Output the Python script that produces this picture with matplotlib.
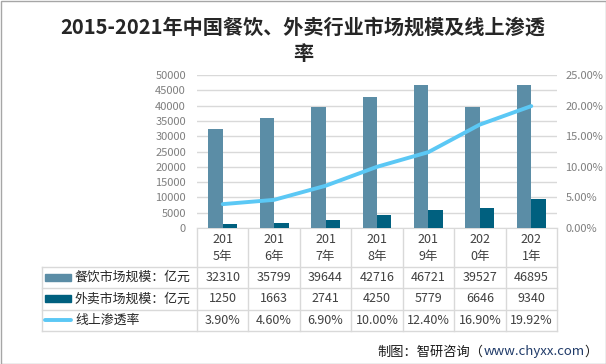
import matplotlib
matplotlib.use("Agg")
import matplotlib.pyplot as plt
from matplotlib.transforms import blended_transform_factory
from matplotlib.patches import Rectangle
from matplotlib.lines import Line2D
from matplotlib.ticker import FuncFormatter

plt.rcParams['font.family'] = ['Noto Sans CJK SC', 'DejaVu Sans']

years = ["201\n5年", "201\n6年", "201\n7年", "201\n8年", "201\n9年", "202\n0年", "202\n1年"]
restaurant = [32310, 35799, 39644, 42716, 46721, 39527, 46895]
delivery = [1250, 1663, 2741, 4250, 5779, 6646, 9340]
online_rate = [3.90, 4.60, 6.90, 10.00, 12.40, 16.90, 19.92]
series_names = ["餐饮市场规模：亿元", "外卖市场规模：亿元", "线上渗透率"]
title = "2015-2021年中国餐饮、外卖行业市场规模及线上渗透\n率"
source_a = "制图：智研咨询（"
source_b = "www.chyxx.com"
source_c = "）"

C_REST = "#5B8DA6"
C_DEL = "#00607F"
C_LINE = "#5BC8F5"
GRID = "#D9D9D9"
TICK = "#7F7F7F"

W, H = 606, 364
fig = plt.figure(figsize=(W / 100, H / 100), dpi=100)

# overlay in pixel coordinates
ov = fig.add_axes([0, 0, 1, 1])
ov.set_xlim(0, W)
ov.set_ylim(H, 0)
ov.axis("off")

ax = fig.add_axes([197 / W, 1 - 228 / H, (557 - 197) / W, (228 - 75) / H])
ax2 = ax.twinx()

x = list(range(len(years)))
bw = 0.28
ax.bar([i - bw / 2 for i in x], restaurant, width=bw, color=C_REST, zorder=3)
ax.bar([i + bw / 2 for i in x], delivery, width=bw, color=C_DEL, zorder=3)
ax.set_xlim(-0.5, len(years) - 0.5)
ax.set_ylim(0, 50000)
ax.set_yticks(range(0, 50001, 5000))
ax.grid(axis="y", color=GRID, linewidth=1, zorder=0)
ax.set_xticks([])
for s in ["top", "right", "left"]:
    ax.spines[s].set_visible(False)
ax.spines["bottom"].set_color(GRID)
ax.tick_params(axis="y", length=0, labelsize=8, labelcolor=TICK, pad=8)

ax2.plot(x, [v / 100 for v in online_rate], color=C_LINE, linewidth=2.8, zorder=4,
         solid_capstyle="round")
ax2.set_ylim(0, 0.25)
ax2.set_yticks([0, 0.05, 0.10, 0.15, 0.20, 0.25])
ax2.yaxis.set_major_formatter(FuncFormatter(lambda v, p: f"{v*100:.2f}%"))
for s in ["top", "right", "left", "bottom"]:
    ax2.spines[s].set_visible(False)
ax2.tick_params(axis="y", length=0, labelsize=8, labelcolor=TICK, pad=6)

# table
tr = blended_transform_factory(ax.transData, ov.transData)
n = len(years)
y_top, y_h, rows_y = 228, 266.5, [266.5, 288, 309.5, 331]
for i in range(n + 1):
    ov.add_line(Line2D([i - 0.5, i - 0.5], [y_top, rows_y[-1]], transform=tr,
                       color=GRID, linewidth=1))
ov.add_line(Line2D([41.5, 41.5], [rows_y[0], rows_y[-1]], color=GRID, linewidth=1))
for yy in rows_y:
    ov.add_line(Line2D([41.5, 557], [yy, yy], color=GRID, linewidth=1))

for i, lab in enumerate(years):
    ov.text(i, (y_top + y_h) / 2 + 1, lab, transform=tr, ha="center", va="center",
            fontsize=9, color="#404040", linespacing=1.4)

rows = [restaurant, delivery, [f"{v:.2f}%" for v in online_rate]]
for r, vals in enumerate(rows):
    yc = (rows_y[r] + rows_y[r + 1]) / 2
    for i, v in enumerate(vals):
        ov.text(i, yc, str(v), transform=tr, ha="center", va="center",
                fontsize=9, color="#404040")
    ov.text(75, yc, series_names[r], ha="left", va="center", fontsize=9.3, color="#262626")

# legend keys
yc0 = (rows_y[0] + rows_y[1]) / 2
yc1 = (rows_y[1] + rows_y[2]) / 2
yc2 = (rows_y[2] + rows_y[3]) / 2
ov.add_patch(Rectangle((45, yc0 - 3.5), 26, 7, color=C_REST))
ov.add_patch(Rectangle((45, yc1 - 3.5), 26, 7, color=C_DEL))
ov.add_line(Line2D([45, 71], [yc2, yc2], color=C_LINE, linewidth=2.8, solid_capstyle="round"))

# title
ov.text(303, 40, title, ha="center", va="center", fontsize=14.5, fontweight="bold",
        color="#262626", linespacing=1.3)

# source
t3 = ov.text(598, 352, source_c, ha="right", va="center", fontsize=9.5, color="#1a1a1a")
fig.canvas.draw()
bb = t3.get_window_extent()
x3 = bb.x0
t2 = fig.text(x3 / W, 1 - 352 / H, source_b, ha="right", va="center", fontsize=9.5, color="#1F3A68")
fig.canvas.draw()
bb2 = t2.get_window_extent()
fig.text(bb2.x0 / W, 1 - 352 / H, source_a, ha="right", va="center", fontsize=9.5, color="#1a1a1a")

# border
ov.add_patch(Rectangle((0.5, 0.5), W - 1, H - 1, fill=False, edgecolor="#A6A6A6", linewidth=1))

fig.savefig("out.png", dpi=100)
